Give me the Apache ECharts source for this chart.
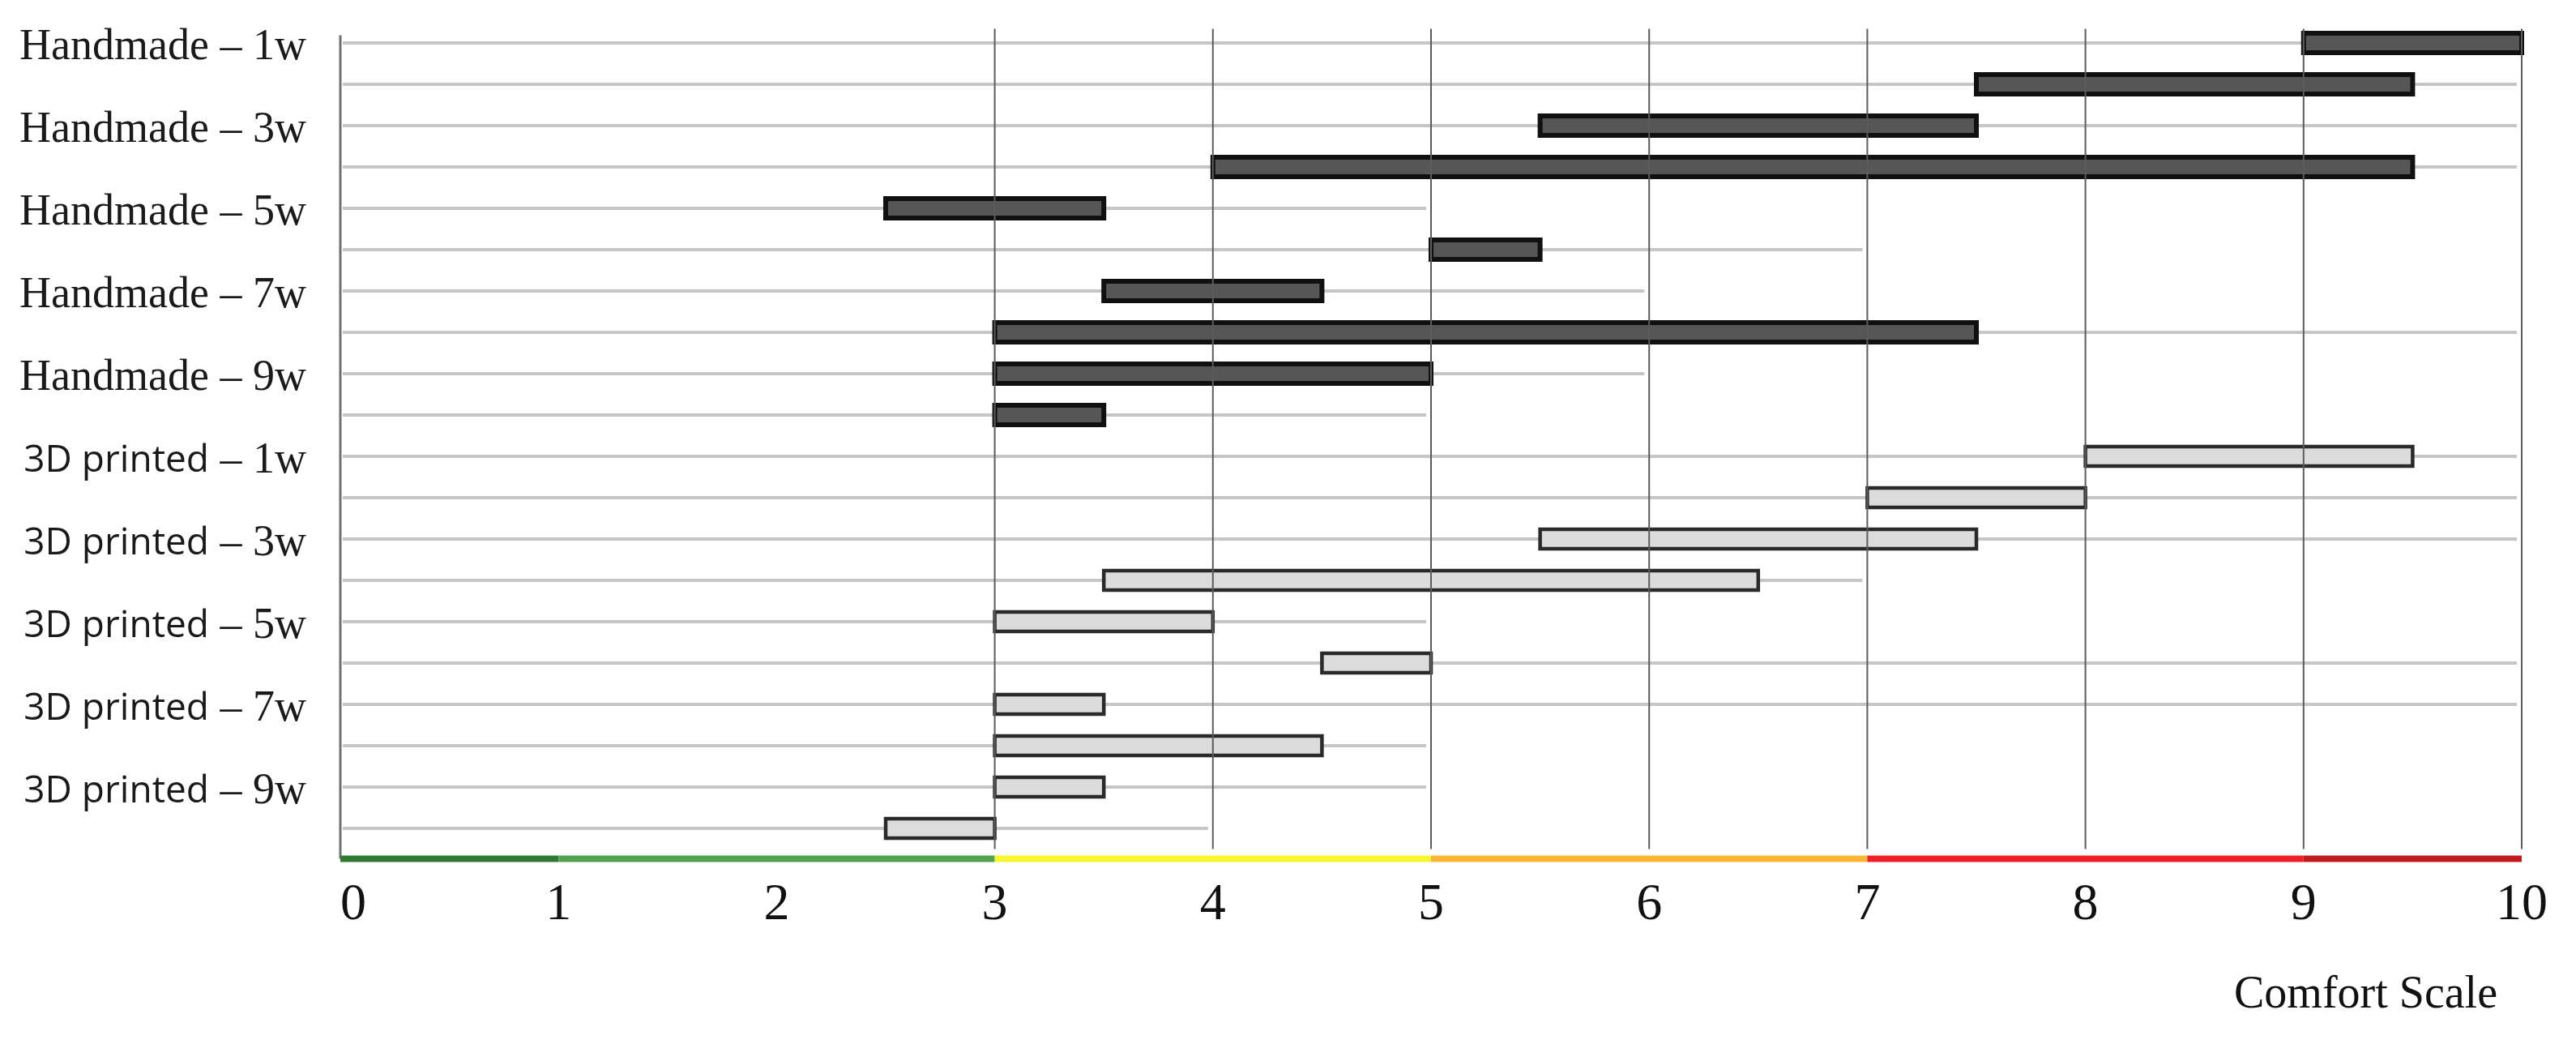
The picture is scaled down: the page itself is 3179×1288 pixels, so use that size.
<!DOCTYPE html>
<html><head><meta charset="utf-8">
<script src="https://cdn.jsdelivr.net/npm/echarts@6/dist/echarts.min.js"></script>
<style>html,body{margin:0;padding:0;background:#fff}#c{width:3179px;height:1288px}</style>
</head><body><div id="c"></div>
<script>
// ---- data ----
const categories = [
  'Handmade – 1w','Handmade – 2w','Handmade – 3w','Handmade – 4w','Handmade – 5w',
  'Handmade – 6w','Handmade – 7w','Handmade – 8w','Handmade – 9w','Handmade – 10w',
  '3D printed – 1w','3D printed – 2w','3D printed – 3w','3D printed – 4w','3D printed – 5w',
  '3D printed – 6w','3D printed – 7w','3D printed – 8w','3D printed – 9w','3D printed – 10w'
];
const handmadeStart = [9, 7.5, 5.5, 4, 2.5, 5, 3.5, 3, 3, 3];
const handmadeEnd   = [10, 9.5, 7.5, 9.5, 3.5, 5.5, 4.5, 7.5, 5, 3.5];
const printedStart  = [8, 7, 5.5, 3.5, 3, 4.5, 3, 3, 3, 2.5];
const printedEnd    = [9.5, 8, 7.5, 6.5, 4, 5, 3.5, 4.5, 3.5, 3];
const rowLineEnd    = [10,10,10,10,5,7,6,10,6,5,10,10,10,7,5,10,10,5,5,4];
const verticalTicks = [3,4,5,6,7,8,9,10];
const zoneBounds    = [[0,1],[1,3],[3,5],[5,7],[7,9],[9,10]];
const zoneColors    = ['#2f7a32','#4fa34f','#f8f52e','#fbb535','#f01f26','#c11a1e'];

const SERIF = '"Liberation Serif", "Times New Roman", serif';
const SANS = '"Open Sans", "Noto Sans", sans-serif';

const chart = echarts.init(document.getElementById('c'));

function barRenderer(fill, stroke, lw) {
  return function (params, api) {
    const row = api.value(2);
    const p0 = api.coord([api.value(0), row]);
    const p1 = api.coord([api.value(1), row]);
    const h = api.size([0, 1])[1] * 0.47;
    return {
      type: 'rect',
      shape: { x: p0[0], y: p0[1] - h / 2, width: p1[0] - p0[0], height: h },
      style: { fill: fill, stroke: stroke, lineWidth: lw }
    };
  };
}

const option = {
  animation: false,
  backgroundColor: '#fff',
  title: {
    text: 'Comfort Scale', right: 92, top: 1195,
    textStyle: { fontFamily: SERIF, fontSize: 56, fontWeight: 'normal', color: '#111' }
  },
  grid: { left: 420, right: 67, top: 27.5, height: 1020 },
  xAxis: {
    type: 'value', min: 0, max: 10, interval: 1,
    axisLine: { show: false }, axisTick: { show: false }, splitLine: { show: false },
    axisLabel: { fontFamily: SERIF, fontSize: 64, color: '#111', margin: 38, alignMinLabel: 'left' }
  },
  yAxis: {
    type: 'category', data: categories, inverse: true,
    axisLine: { show: false }, axisTick: { show: false }, splitLine: { show: false },
    axisLabel: {
      interval: 0, margin: 42, padding: [12, 0, 0, 0],
      formatter: function (v, i) {
        if (i % 2 === 1) return '';
        if (v.indexOf('3D printed') === 0) return '{p|3D printed}{s|' + v.slice(10) + '}';
        return '{s|' + v + '}';
      },
      rich: {
        s: { fontFamily: SERIF, fontSize: 54, color: '#1a1a1a', lineHeight: 60 },
        p: { fontFamily: SANS, fontSize: 46, color: '#1a1a1a', lineHeight: 60 }
      }
    }
  },
  series: [
    {
      type: 'custom', z: 1, silent: true,
      data: rowLineEnd.map((e, i) => [0, e, i]),
      encode: { x: [0, 1], y: 2 },
      renderItem: function (params, api) {
        const row = api.value(2);
        const p0 = api.coord([api.value(0), row]);
        const p1 = api.coord([api.value(1), row]);
        return { type: 'line', shape: { x1: p0[0] + 3, y1: p0[1], x2: p1[0] - 6, y2: p1[1] },
          style: { stroke: '#c6c6c6', lineWidth: 4 } };
      }
    },
    {
      type: 'custom', z: 2, name: 'Handmade',
      data: handmadeStart.map((s, i) => [s, handmadeEnd[i], i]),
      encode: { x: [0, 1], y: 2 },
      renderItem: barRenderer('#565656', '#101010', 6)
    },
    {
      type: 'custom', z: 2, name: '3D printed',
      data: printedStart.map((s, i) => [s, printedEnd[i], i + 10]),
      encode: { x: [0, 1], y: 2 },
      renderItem: barRenderer('#dcdcdc', '#2a2a2a', 4.5)
    },
    {
      type: 'custom', z: 3, silent: true,
      data: verticalTicks.map(v => [v, 0]),
      encode: { x: 0, y: 1 },
      renderItem: function (params, api) {
        const cs = params.coordSys;
        const x = api.coord([api.value(0), 0])[0];
        return { type: 'line', shape: { x1: x, y1: cs.y + 8, x2: x, y2: cs.y + cs.height },
          style: { stroke: '#5c5c5c', lineWidth: 2 } };
      }
    },
    {
      type: 'custom', z: 3, silent: true,
      data: [[0, 0]],
      encode: { x: 0, y: 1 },
      renderItem: function (params, api) {
        const cs = params.coordSys;
        const x = api.coord([api.value(0), 0])[0];
        return { type: 'line', shape: { x1: x, y1: cs.y + 16, x2: x, y2: cs.y + cs.height + 12 },
          style: { stroke: '#707070', lineWidth: 3 } };
      }
    },
    {
      type: 'custom', z: 4, silent: true,
      data: zoneBounds.map(b => [b[0], b[1], 0]),
      encode: { x: [0, 1] },
      renderItem: function (params, api) {
        const cs = params.coordSys;
        const x0 = api.coord([api.value(0), 0])[0];
        const x1 = api.coord([api.value(1), 0])[0];
        return { type: 'rect', shape: { x: x0, y: cs.y + cs.height + 8, width: x1 - x0, height: 8 },
          style: { fill: zoneColors[params.dataIndex] } };
      }
    }
  ]
};
chart.setOption(option);
</script></body></html>
